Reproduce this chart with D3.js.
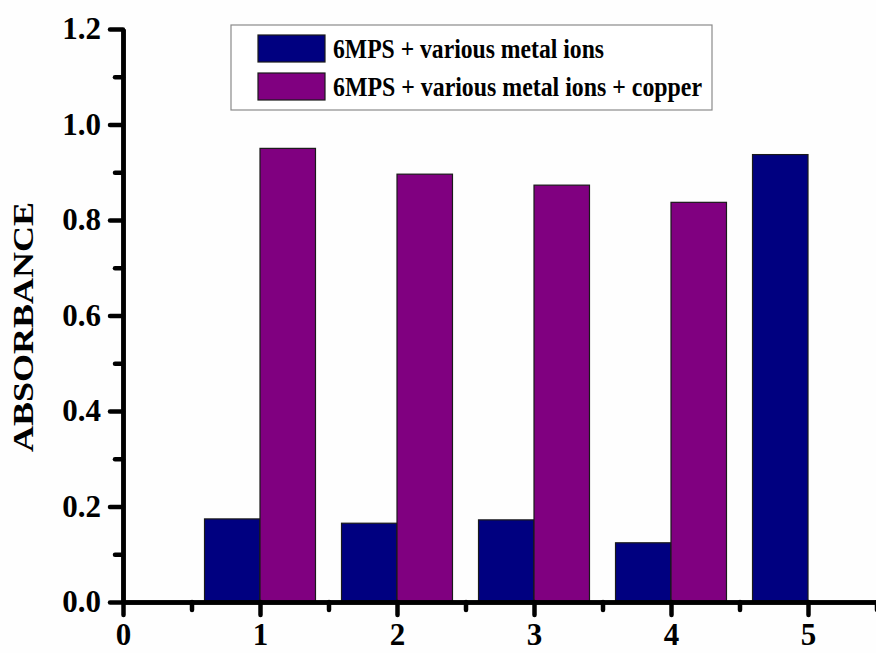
<!DOCTYPE html>
<html>
<head>
<meta charset="utf-8">
<script src="https://cdn.jsdelivr.net/npm/d3@7"></script>
<style>
  body { margin: 0; background: #fefefe; }
  svg { display: block; }
</style>
</head>
<body>
<div id="chart"></div>
<script>
// data
const groups = [1, 2, 3, 4, 5];
const seriesNames = ["6MPS + various metal ions", "6MPS + various metal ions + copper"];
const metalIons = [0.174, 0.165, 0.172, 0.124, 0.937];
const metalIonsCopper = [0.950, 0.896, 0.873, 0.837, null];
const seriesColors = ["#000080", "#800080"];
const yMajorTicks = [0, 0.2, 0.4, 0.6, 0.8, 1.0, 1.2];
const yMinorTicks = [0.1, 0.3, 0.5, 0.7, 0.9, 1.1];
const xMajorTicks = [0, 1, 2, 3, 4, 5];
const xMinorTicks = [0.5, 1.5, 2.5, 3.5, 4.5, 5.5];

const fullWidth = 876;
const fullHeight = 653;
const margin = { top: 29, right: 0, bottom: 51, left: 123 };
const barWidth = 0.405; // in x units
const font = "'Liberation Serif', 'Times New Roman', serif";

const svg = d3.select("#chart").append("svg")
  .attr("width", fullWidth)
  .attr("height", fullHeight);

const x = d3.scaleLinear()
  .domain([0, 5.5])
  .range([margin.left, fullWidth - margin.right + 0.5]);

const y = d3.scaleLinear()
  .domain([0, 1.2])
  .range([fullHeight - margin.bottom, margin.top]);

// bars
const bars = [];
groups.forEach((g, i) => {
  bars.push({ x0: g - barWidth, x1: g, value: metalIons[i], s: 0 });
  if (metalIonsCopper[i] != null) {
    bars.push({ x0: g, x1: g + barWidth, value: metalIonsCopper[i], s: 1 });
  }
});

svg.append("g")
  .selectAll("rect")
  .data(bars)
  .enter()
  .append("rect")
  .attr("x", d => x(d.x0))
  .attr("width", d => x(d.x1) - x(d.x0))
  .attr("y", d => y(d.value))
  .attr("height", d => y(0) - y(d.value))
  .attr("fill", d => seriesColors[d.s])
  .attr("stroke", "#1a1a1a")
  .attr("stroke-width", 1.2);

// axes
function styleAxis(g) {
  g.select(".domain").attr("stroke", "#000").attr("stroke-width", 4.5);
  g.selectAll(".tick line").attr("stroke", "#000").attr("stroke-width", 4.5).attr("stroke-linecap", "round");
  g.selectAll(".tick text")
    .attr("fill", "#000")
    .style("font-family", font)
    .style("font-weight", "bold")
    .style("font-size", "31px");
}

svg.append("g")
  .attr("transform", `translate(${margin.left}, 0)`)
  .call(d3.axisLeft(y).tickValues(yMinorTicks).tickSize(8).tickSizeOuter(0).tickFormat(""))
  .call(styleAxis);

svg.append("g")
  .attr("transform", `translate(${margin.left}, 0)`)
  .call(d3.axisLeft(y).tickValues(yMajorTicks).tickSize(13).tickSizeOuter(0).tickPadding(9).tickFormat(d3.format(".1f")))
  .call(styleAxis);

svg.append("g")
  .attr("transform", `translate(0, ${y(0)})`)
  .call(d3.axisBottom(x).tickValues(xMinorTicks).tickSize(8).tickSizeOuter(0).tickFormat(""))
  .call(styleAxis);

svg.append("g")
  .attr("transform", `translate(0, ${y(0)})`)
  .call(d3.axisBottom(x).tickValues(xMajorTicks).tickSize(13).tickSizeOuter(0).tickPadding(8).tickFormat(d3.format("d")))
  .call(styleAxis);

// y axis title
svg.append("text")
  .attr("transform", "translate(33, 327) rotate(-90)")
  .attr("text-anchor", "middle")
  .attr("textLength", 250)
  .attr("lengthAdjust", "spacingAndGlyphs")
  .style("font-family", font)
  .style("font-weight", "bold")
  .style("font-size", "30px")
  .text("ABSORBANCE");

// legend
const legend = svg.append("g");

legend.append("rect")
  .attr("x", 231)
  .attr("y", 25)
  .attr("width", 481)
  .attr("height", 85)
  .attr("fill", "#fff")
  .attr("stroke", "#8a8a8a")
  .attr("stroke-width", 1.2);

const legendItems = legend.selectAll(".item")
  .data(seriesNames)
  .enter()
  .append("g")
  .attr("class", "item")
  .attr("transform", (d, i) => `translate(258, ${35 + i * 38})`);

legendItems.append("rect")
  .attr("width", 67)
  .attr("height", 27)
  .attr("fill", (d, i) => seriesColors[i])
  .attr("stroke", "#1a1a1a")
  .attr("stroke-width", 1.2);

legendItems.append("text")
  .attr("x", 75)
  .attr("y", 23)
  .attr("textLength", (d, i) => i === 0 ? 271 : 369)
  .attr("lengthAdjust", "spacingAndGlyphs")
  .style("font-family", font)
  .style("font-weight", "bold")
  .style("font-size", "27px")
  .text(d => d);
</script>
</body>
</html>
